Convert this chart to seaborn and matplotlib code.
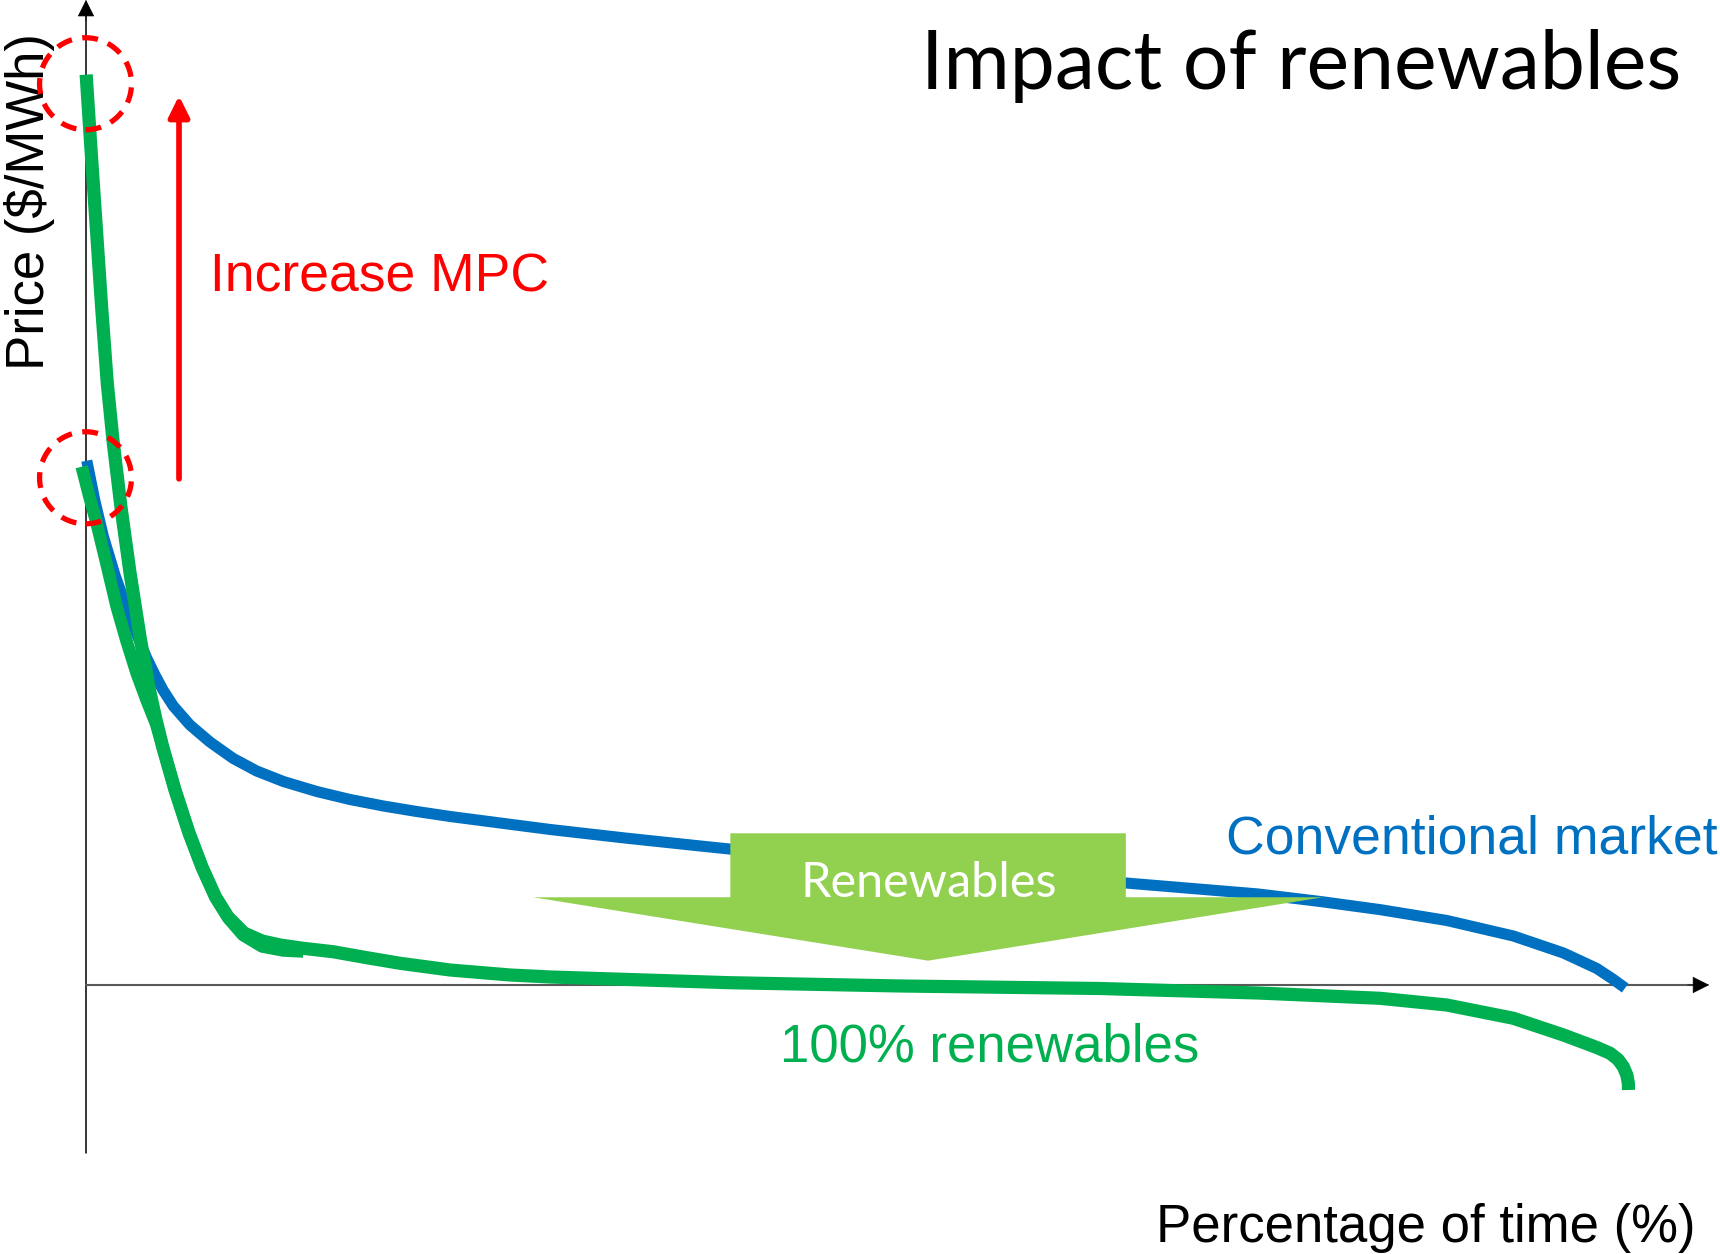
import numpy as np
import pandas as pd
import matplotlib
matplotlib.use("Agg")
import matplotlib.pyplot as plt
from matplotlib.patches import Ellipse
import seaborn as sns

# price duration curves, x = percentage of time, y = price (arbitrary units)
conv_x = [0.05, 0.58, 1.12, 1.88, 2.64, 3.31, 3.94, 4.48, 5.0, 5.67, 6.75, 8.05,
          9.56, 11.08, 12.81, 14.98, 17.14, 19.31, 21.47, 23.64, 26.88, 30.13, 35.0,
          39.87, 41.79, 54.68, 67.51, 76.10, 80.13, 84.03, 88.36, 92.68, 95.93,
          98.10, 99.18, 99.94]
conv_y = [100.06, 92.37, 85.69, 78.24, 71.95, 66.79, 62.40, 59.16, 56.30, 53.24, 49.62, 46.37,
          43.23, 40.84, 38.84, 36.93, 35.40, 34.16, 33.11, 32.16, 30.92, 29.68, 28.05,
          26.53, 25.95, 22.52, 19.47, 17.37, 15.94, 14.38, 12.31, 9.35, 6.11,
          3.15, 1.05, -0.57]

ren_hi_x = [0.01, 0.34, 0.68, 1.01, 1.38, 1.75, 2.27, 2.86, 3.54, 4.12, 4.55, 5.0,
            5.78, 6.69, 7.53, 8.41, 9.22, 10.26, 11.43, 12.60, 14.09, 16.04, 18.23,
            20.39, 23.64, 27.53, 30.13, 41.75, 52.86, 65.84, 76.10, 84.03, 88.36,
            92.68, 95.93, 98.10, 98.96, 99.48, 99.82, 100.05, 100.15, 100.16]
ren_hi_y = [173.74, 158.78, 144.08, 129.58, 114.89, 104.01, 91.22, 78.63, 65.84, 56.30, 50.57, 45.23,
            37.21, 29.01, 22.52, 16.79, 12.98, 9.92, 8.40, 7.63, 7.0, 6.35, 5.21,
            4.14, 2.86, 1.91, 1.53, 0.44, -0.19, -0.67, -1.53, -2.54, -3.82,
            -6.35, -9.54, -11.93, -13.03, -14.22, -15.59, -17.18, -18.76, -20.04]

ren_lo_x = [-0.28, 0.19, 0.69, 1.30, 1.99, 2.63, 3.29, 3.93, 4.55, 5.0, 5.78, 6.69,
            7.53, 8.41, 9.29, 10.19, 11.43, 12.81, 14.11]
ren_lo_y = [98.91, 93.51, 88.11, 80.73, 72.19, 65.65, 59.48, 54.39, 49.81, 45.23, 37.21, 29.01,
            22.52, 16.79, 12.60, 9.54, 7.35, 6.58, 6.39]

conv_mpc = 100.0
new_mpc = 172.0

BLUE = "#0070C0"
GREEN = "#00B050"
LIGHT_GREEN = "#92D050"
RED = "#FF0000"

sns.set_theme(style="white")
plt.rcParams["font.family"] = ["Liberation Sans", "DejaVu Sans"]

fig = plt.figure(figsize=(17.2, 12.54), dpi=100)
ax = fig.add_axes([0, 0, 1, 1])
ax.axis("off")

# axes with arrow heads
ax.plot([0, 0], [-32.06, 186], color="black", lw=1.1, zorder=1)
ax.annotate("", xy=(0, 188.0), xytext=(0, 184.0),
            arrowprops=dict(arrowstyle="-|>,head_length=1.1,head_width=0.55",
                            color="black", lw=0.5, shrinkA=0, shrinkB=0, mutation_scale=10))
ax.plot([0, 104.5], [0, 0], color="#595959", lw=1.5, zorder=1)
ax.annotate("", xy=(105.4, 0), xytext=(104.0, 0),
            arrowprops=dict(arrowstyle="-|>,head_length=1.1,head_width=0.55",
                            color="black", lw=0.5, shrinkA=0, shrinkB=0, mutation_scale=10))

conv = pd.DataFrame({"time": conv_x, "price": conv_y})
hi = pd.DataFrame({"time": ren_hi_x, "price": ren_hi_y})
lo = pd.DataFrame({"time": ren_lo_x, "price": ren_lo_y})

sns.lineplot(data=conv, x="time", y="price", sort=False, estimator=None, ax=ax,
             color=BLUE, lw=8, solid_capstyle="butt", solid_joinstyle="round", zorder=3)
sns.lineplot(data=lo, x="time", y="price", sort=False, estimator=None, ax=ax,
             color=GREEN, lw=9, solid_capstyle="butt", solid_joinstyle="round", zorder=4)
sns.lineplot(data=hi, x="time", y="price", sort=False, estimator=None, ax=ax,
             color=GREEN, lw=9.5, solid_capstyle="butt", solid_joinstyle="round", zorder=4)
ax.set_xlim(-5.584, 106.10)
ax.set_ylim(-51.34, 187.98)
ax.axis("off")

# block arrow "Renewables"
ax.arrow(54.68, 28.95, 0, -24.31, width=25.68, head_width=51.27, head_length=12.1,
         length_includes_head=True, color=LIGHT_GREEN, lw=0, zorder=5)
ax.text(54.7, 16.85, "Renewables", color="white", fontsize=35, family="Lato",
        ha="center", va="baseline", zorder=6)

# dashed circles around the price caps
for cy in (new_mpc, conv_mpc - 3.2):
    ax.add_patch(Ellipse((-0.03, cy), 5.97, 17.56, fill=False, ec=RED, lw=3.8,
                         ls=(0, (3, 2)), zorder=7))

# increase MPC arrow
ax.annotate("", xy=(6.04, 169.7), xytext=(6.04, 96.6),
            arrowprops=dict(arrowstyle="-|>,head_length=1.25,head_width=0.62",
                            color=RED, lw=4.1, shrinkA=0, shrinkB=0, mutation_scale=10))

ax.text(8.05, 132.4, "Increase MPC", color=RED, fontsize=38.5, ha="left", va="baseline")
ax.text(74.03, 25.0, "Conventional market", color=BLUE, fontsize=38.5, ha="left", va="baseline")
ax.text(45.06, -14.6, "100% renewables", color=GREEN, fontsize=38, ha="left", va="baseline")
ax.text(104.5, -49.05, "Percentage of time (%)", color="black", fontsize=38, ha="right", va="baseline")
ax.text(-3.64, 149.5, "Price ($/MWh)", color="black", fontsize=38, rotation=90,
        ha="center", va="center")
ax.text(103.57, 171.0, "Impact of renewables", color="black", fontsize=58,
        family="Lato", fontweight="normal", ha="right", va="baseline")

fig.savefig("out.png", dpi=100)
